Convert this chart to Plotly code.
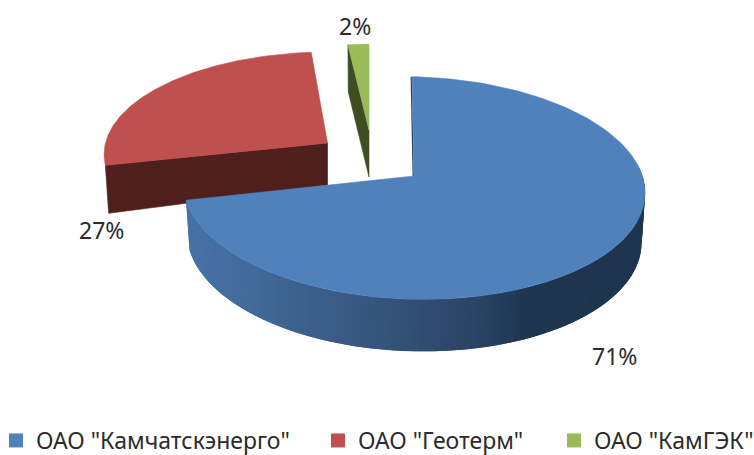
import numpy as np
import plotly.graph_objects as go

# Data
categories = ['ОАО "Камчатскэнерго"', 'ОАО "Геотерм"', 'ОАО "КамГЭК"']
shares = [71, 27, 2]
labels = ["71%", "27%", "2%"]

# Styles
top_colors = ["#4f81bd", "#c0504d", "#9bbb59"]
wall_colors = ["#1f344f", "#4f1f1e", "#3f4d22"]
FONT = "Noto Sans"
TEXT = "#2b2b2b"

# Projection of each exploded slice onto the page (pixels)
K = 0.108
SLICE_GEOM = [
    dict(cx=414, cy=176, a=229.5, b=110, d=49, e=3, shear=2, tilt=4),
    dict(cx=327.5, cy=143, a=221, b=100.7, d=42, e=24, shear=-8.8, tilt=3.5),
    dict(cx=369, cy=130, a=186, b=95, d=47, e=0, shear=0, tilt=0),
]
BOTTOM_NARROW = 0.985

fractions = np.cumsum([0] + shares) / sum(shares)
angles = 2 * np.pi * fractions


def rim(i, theta, bottom=False):
    g = SLICE_GEOM[i]
    u, v = np.sin(theta), -np.cos(theta)
    w = 1 - K * v
    a = g["a"] * (BOTTOM_NARROW if bottom else 1)
    x = g["cx"] + a * u / w + g["shear"] * v
    y = g["cy"] + g["b"] * v / w + g["tilt"] * u
    if bottom:
        y = y + g["d"] + g["e"] * v
    return x, y


def centre(i, bottom=False):
    g = SLICE_GEOM[i]
    return g["cx"], g["cy"] + (g["d"] if bottom else 0)


def poly(fig, xs, ys, color, lw=0.6):
    fig.add_trace(go.Scatter(x=list(xs), y=list(ys), mode="lines", fill="toself", fillcolor=color,
                             line=dict(color=color, width=lw), hoverinfo="skip", showlegend=False))


def face(fig, i, color):
    t = np.linspace(angles[i], angles[i + 1], 160)
    x, y = rim(i, t)
    cx, cy = centre(i)
    poly(fig, np.r_[cx, x, cx], np.r_[cy, y, cy], color)


def cut_wall(fig, i, theta, color):
    x0, y0 = rim(i, theta)
    x1, y1 = rim(i, theta, True)
    cx0, cy0 = centre(i)
    cx1, cy1 = centre(i, True)
    poly(fig, [cx0, x0, x1, cx1, cx0], [cy0, y0, y1, cy1, cy0], color)


fig = go.Figure()

# Green slice (farthest)
cut_wall(fig, 2, angles[2], wall_colors[2])
face(fig, 2, top_colors[2])

# Red slice
cut_wall(fig, 1, angles[1], wall_colors[1])
face(fig, 1, top_colors[1])

# Blue slice: shaded outer side, drawn as thin overlapping bands
stops_x = [190, 240, 300, 400, 480, 530, 650]
stops_r = [0x48, 0x44, 0x3e, 0x34, 0x2a, 0x20, 0x1f]
stops_g = [0x72, 0x6c, 0x62, 0x52, 0x44, 0x36, 0x34]
stops_b = [0xa6, 0x9c, 0x8e, 0x78, 0x64, 0x51, 0x4f]
edges = np.linspace(np.radians(82), angles[1], 140)
step = edges[1] - edges[0]
for t0, t1 in zip(edges[:-1], edges[1:]):
    tt = np.linspace(t0, min(t1 + step, angles[1]), 4)
    xt, yt = rim(0, tt)
    xb, yb = rim(0, tt, True)
    xm = float(rim(0, t0)[0])
    col = "rgb(%d,%d,%d)" % (np.interp(xm, stops_x, stops_r),
                             np.interp(xm, stops_x, stops_g),
                             np.interp(xm, stops_x, stops_b))
    poly(fig, np.r_[xt, xb[::-1], xt[0]], np.r_[yt, yb[::-1], yt[0]], col, lw=0)

# thin visible edge of the blue cut at 12 o'clock
xe, ye = rim(0, angles[0])
cxe, cye = centre(0)
fig.add_trace(go.Scatter(x=[xe - 0.8, cxe - 0.8], y=[ye, cye], mode="lines",
                         line=dict(color=wall_colors[0], width=1.2), hoverinfo="skip", showlegend=False))
face(fig, 0, top_colors[0])

# Legend (one native legend per entry, placed independently)
legend_names = ["legend", "legend2", "legend3"]
legend_left = [-4 / 754, 318 / 754, 554 / 754]
for name, col, ln in zip(categories, top_colors, legend_names):
    fig.add_trace(go.Scatter(x=[None], y=[None], mode="markers", name=name, legend=ln,
                             marker=dict(symbol="square", size=14, color=col)))

legend_style = dict(orientation="h", xanchor="left", yanchor="middle", y=14.5 / 455,
                    font=dict(family=FONT, size=23, color=TEXT), bgcolor="rgba(0,0,0,0)",
                    itemclick=False, itemdoubleclick=False)

# Value labels
label_pos = [(614, 356), (101, 230), (355, 26)]
annotations = [dict(x=x, y=y, text=t, showarrow=False, xref="x", yref="y",
                    font=dict(family=FONT, size=23, color=TEXT))
               for t, (x, y) in zip(labels, label_pos)]

fig.update_layout(
    width=754, height=455, margin=dict(l=0, r=0, t=0, b=0, autoexpand=False), autosize=False,
    paper_bgcolor="white", plot_bgcolor="white", annotations=annotations,
    xaxis=dict(range=[0, 754], visible=False, fixedrange=True),
    yaxis=dict(range=[455, 0], visible=False, fixedrange=True),
    legend=dict(x=legend_left[0], **legend_style),
    legend2=dict(x=legend_left[1], **legend_style),
    legend3=dict(x=legend_left[2], **legend_style),
)
fig.write_html("out.html", config={"displayModeBar": False},
               post_script="document.body.style.margin='0';document.body.style.overflow='hidden';")
